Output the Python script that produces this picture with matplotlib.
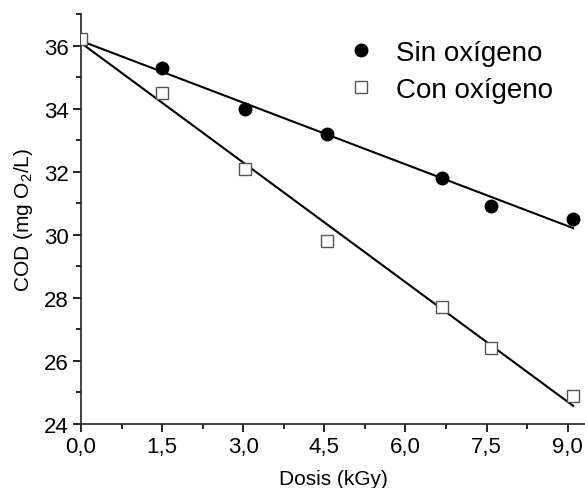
import numpy as np
import matplotlib
matplotlib.use("Agg")
import matplotlib.pyplot as plt
from matplotlib.ticker import MultipleLocator, FuncFormatter

plt.rcParams['font.family'] = ['Liberation Sans', 'DejaVu Sans']
plt.rcParams['mathtext.default'] = 'regular'

# Data
dosis_sin = [0.0, 1.5, 3.03, 4.55, 6.67, 7.58, 9.09]
cod_sin = [36.2, 35.3, 34.0, 33.2, 31.8, 30.9, 30.5]
dosis_con = [0.0, 1.5, 3.03, 4.55, 6.67, 7.58, 9.09]
cod_con = [36.2, 34.5, 32.1, 29.8, 27.7, 26.4, 24.9]
x_ticks = [0.0, 1.5, 3.0, 4.5, 6.0, 7.5, 9.0]
y_ticks = [24, 26, 28, 30, 32, 34, 36]

fig = plt.figure(figsize=(5.85, 4.89), dpi=100)
ax = fig.add_axes([0.1385, 0.131, 1.0 - 0.1385, 0.969 - 0.131])

# linear fits
xfit = np.linspace(0, 9.1, 50)
p_sin = np.polyfit(dosis_sin, cod_sin, 1)
p_con = np.polyfit(dosis_con, cod_con, 1)
ax.plot(xfit, np.polyval(p_sin, xfit), color='black', lw=1.5, zorder=2)
ax.plot(xfit, np.polyval(p_con, xfit), color='black', lw=1.5, zorder=2)

ax.plot(dosis_con, cod_con, 's', ms=8, mfc='white', mec='#555555', mew=1.0, zorder=3)
ax.plot(dosis_sin[1:], cod_sin[1:], 'o', ms=9, color='black', zorder=4)

# legend handles (order: Sin first)
h1, = ax.plot([], [], 'o', ms=9, color='black')
h2, = ax.plot([], [], 's', ms=8, mfc='white', mec='#555555', mew=1.0)
ax.legend([h1, h2], ['Sin oxígeno', 'Con oxígeno'], loc='upper left',
          bbox_to_anchor=(0.594, 0.917), bbox_transform=fig.transFigure,
          frameon=False, fontsize=20, handlelength=1.0, handletextpad=0.75,
          borderpad=0, labelspacing=0.4, borderaxespad=0)

ax.set_xlim(0, 9.32)
ax.set_ylim(24, 37)
ax.set_xticks(x_ticks)
ax.set_yticks(y_ticks)
ax.xaxis.set_minor_locator(MultipleLocator(0.75))
ax.yaxis.set_minor_locator(MultipleLocator(1))
ax.xaxis.set_major_formatter(FuncFormatter(lambda v, p: f"{v:.1f}".replace('.', ',')))

for s in ['top', 'right']:
    ax.spines[s].set_visible(False)
for s in ['left', 'bottom']:
    ax.spines[s].set_linewidth(1.2)
    ax.spines[s].set_color('#222222')

ax.tick_params(which='major', direction='out', length=6, width=1.2, labelsize=16, pad=3)
ax.tick_params(which='minor', direction='out', length=3.5, width=1.2)

ax.set_xlabel('Dosis (kGy)', fontsize=15, labelpad=8)
ax.set_ylabel('COD (mg O$_2$/L)', fontsize=15, labelpad=6)

fig.savefig('out.png', dpi=100)
